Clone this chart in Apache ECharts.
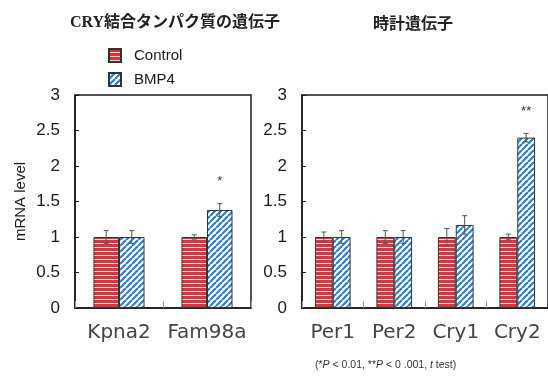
<!DOCTYPE html>
<html><head><meta charset="utf-8">
<script src="https://cdn.jsdelivr.net/npm/echarts@6/dist/echarts.min.js"></script>
<style>html,body{margin:0;padding:0;background:#fff}#c{width:548px;height:376px}</style>
</head><body><div id="c"></div>
<script>
const categoriesLeft = ['Kpna2', 'Fam98a'];
const controlLeft = [1.0, 1.0];
const bmp4Left = [1.0, 1.38];
const controlLeftErr = [0.09, 0.03];
const bmp4LeftErr = [0.09, 0.09];
const sigLeft = ['', '*'];

const categoriesRight = ['Per1', 'Per2', 'Cry1', 'Cry2'];
const controlRight = [1.0, 1.0, 1.0, 1.0];
const bmp4Right = [1.0, 1.0, 1.17, 2.40];
const controlRightErr = [0.07, 0.09, 0.12, 0.04];
const bmp4RightErr = [0.09, 0.09, 0.13, 0.06];
const sigRight = ['', '', '', '**'];

const yMin = 0, yMax = 3, yStep = 0.5;
const GAP = 0.42;

function redPattern() {
  const c = document.createElement('canvas'); c.width = 4; c.height = 4;
  const g = c.getContext('2d');
  g.fillStyle = '#d5363f'; g.fillRect(0, 0, 4, 4);
  g.fillStyle = '#f6d4d6'; g.fillRect(0, 3, 4, 1);
  return { image: c, repeat: 'repeat' };
}
function bluePattern() {
  const s = 6;
  const c = document.createElement('canvas'); c.width = s; c.height = s;
  const g = c.getContext('2d');
  g.fillStyle = '#ffffff'; g.fillRect(0, 0, s, s);
  g.strokeStyle = '#2a7fd0'; g.lineWidth = 2.2;
  for (const o of [-s, 0, s]) {
    g.beginPath(); g.moveTo(o, s); g.lineTo(o + s, 0); g.stroke();
  }
  return { image: c, repeat: 'repeat' };
}
const RED = redPattern(), BLUE = bluePattern();

function errSeries(xi, yi, vals, errs, side) {
  return {
    type: 'custom', xAxisIndex: xi, yAxisIndex: yi, z: 10, silent: true,
    data: vals.map((v, i) => [i, v, errs[i]]),
    encode: { x: 0, y: 1 },
    renderItem: function (params, api) {
      const idx = api.value(0), v = api.value(1), e = api.value(2);
      const band = api.size([1, 0])[0];
      const bw = band * (1 - GAP) / 2;
      const x = api.coord([idx, v])[0] + side * bw / 2;
      const t = api.coord([idx, v + e])[1];
      const b = api.coord([idx, v - e])[1];
      const st = { stroke: '#555', lineWidth: 1 };
      return { type: 'group', children: [
        { type: 'line', shape: { x1: x, y1: t, x2: x, y2: b }, style: st },
        { type: 'line', shape: { x1: x - 2.5, y1: t, x2: x + 2.5, y2: t }, style: st },
        { type: 'line', shape: { x1: x - 2.5, y1: b, x2: x + 2.5, y2: b }, style: st }
      ]};
    }
  };
}
function sigSeries(xi, yi, vals, errs, sig) {
  return {
    type: 'custom', xAxisIndex: xi, yAxisIndex: yi, z: 11, silent: true,
    data: vals.map((v, i) => [i, v + errs[i], sig[i]]),
    encode: { x: 0, y: 1 },
    renderItem: function (params, api) {
      const idx = api.value(0), top = api.value(1);
      const txt = sig[idx];
      if (!txt) return null;
      const band = api.size([1, 0])[0];
      const bw = band * (1 - GAP) / 2;
      const p = api.coord([idx, top]);
      return { type: 'text', style: { text: txt, x: p[0] + bw / 2, y: p[1] - 22,
        align: 'center', verticalAlign: 'middle', fontSize: 13, fill: '#333',
        fontFamily: 'Liberation Sans, Arial' } };
    }
  };
}

function barSeries(name, xi, yi, data, pat) {
  return { name: name, type: 'bar', xAxisIndex: xi, yAxisIndex: yi, data: data,
    barGap: '0%', barCategoryGap: (GAP * 100) + '%',
    itemStyle: { color: pat, borderColor: '#333', borderWidth: 1 } };
}

function yAxisCfg(gi, withName) {
  const a = { type: 'value', gridIndex: gi, min: yMin, max: yMax, interval: yStep,
    splitLine: { show: false },
    axisLine: { show: true, lineStyle: { color: '#1a1a1a', width: 1.5 } },
    axisTick: { show: true, inside: true, length: 4, lineStyle: { color: '#1a1a1a' } },
    axisLabel: { fontSize: 17, color: '#1a1a1a', margin: 15, fontFamily: 'Liberation Sans, Arial' } };
  if (withName) {
    a.name = 'mRNA level'; a.nameLocation = 'middle'; a.nameGap = 47; a.nameRotate = 90;
    a.nameTextStyle = { fontSize: 15, color: '#1a1a1a', fontFamily: 'Liberation Sans, Arial' };
  }
  return a;
}
function xAxisCfg(gi, cats) {
  return { type: 'category', gridIndex: gi, data: cats,
    axisLine: { show: true, lineStyle: { color: '#1a1a1a', width: 1.5 } },
    axisTick: { show: true, inside: true, length: 7, lineStyle: { color: '#999' } },
    axisLabel: { interval: 0, fontSize: 20, color: '#444', margin: 15, fontFamily: 'DejaVu Sans' } };
}

const chart = echarts.init(document.getElementById('c'), null, { renderer: 'canvas' });
chart.setOption({
  animation: false,
  backgroundColor: '#fff',
  title: [
    { text: 'CRY結合タンパク質の遺伝子', left: 170, top: 10, textAlign: 'center',
      textStyle: { fontSize: 16, fontWeight: 'bold', color: '#222', fontFamily: "'Liberation Serif','Noto Sans CJK JP'" } },
    { text: '時計遺伝子', left: 408, top: 10, textAlign: 'center',
      textStyle: { fontSize: 16, fontWeight: 'bold', color: '#222', fontFamily: "'Noto Sans CJK JP'" } },
    { text: '{a|(*}{i|P}{a| < 0.01, **}{i|P}{a| < 0 .001, }{i|t}{a| test)}', left: 310, top: 355,
      textStyle: { rich: {
        a: { fontSize: 10.5, fontWeight: 'normal', color: '#333', fontFamily: 'Liberation Sans, Arial' },
        i: { fontSize: 10.5, fontWeight: 'normal', color: '#333', fontStyle: 'italic', fontFamily: 'Liberation Sans, Arial' } } } }
  ],
  legend: {
    orient: 'vertical', left: 108, top: 48, padding: 0, itemWidth: 12, itemHeight: 13, itemGap: 9,
    icon: 'rect', data: ['Control', 'BMP4'],
    textStyle: { fontSize: 15, color: '#1a1a1a', fontFamily: 'Liberation Sans, Arial', padding: [0, 0, 0, 8] }
  },
  grid: [
    { left: 75, top: 95, width: 176, height: 213, show: true, borderColor: '#1a1a1a', borderWidth: 1.5, containLabel: false },
    { left: 302, top: 95, width: 249, height: 213, show: true, borderColor: '#1a1a1a', borderWidth: 1.5, containLabel: false }
  ],
  xAxis: [xAxisCfg(0, categoriesLeft), xAxisCfg(1, categoriesRight)],
  yAxis: [yAxisCfg(0, true), yAxisCfg(1, false)],
  series: [
    barSeries('Control', 0, 0, controlLeft, RED),
    barSeries('BMP4', 0, 0, bmp4Left, BLUE),
    barSeries('Control', 1, 1, controlRight, RED),
    barSeries('BMP4', 1, 1, bmp4Right, BLUE),
    errSeries(0, 0, controlLeft, controlLeftErr, -1),
    errSeries(0, 0, bmp4Left, bmp4LeftErr, 1),
    errSeries(1, 1, controlRight, controlRightErr, -1),
    errSeries(1, 1, bmp4Right, bmp4RightErr, 1),
    sigSeries(0, 0, bmp4Left, bmp4LeftErr, sigLeft),
    sigSeries(1, 1, bmp4Right, bmp4RightErr, sigRight)
  ]
});
</script></body></html>
